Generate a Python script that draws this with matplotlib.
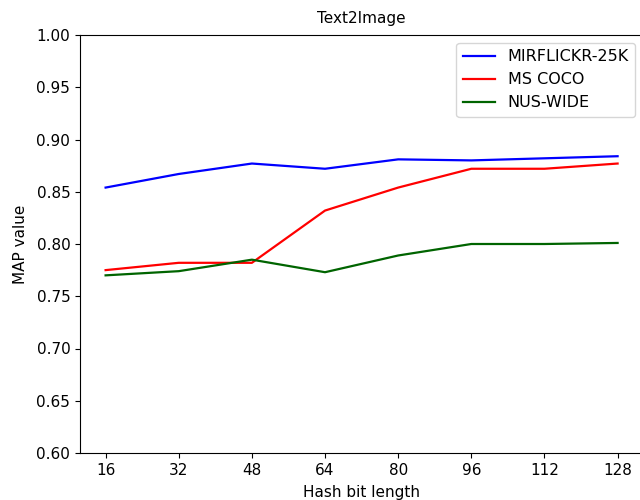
import numpy as np
import matplotlib
matplotlib.use('Agg')
import matplotlib.pyplot as plt

# hash bit lengths
bits = [16, 32, 48, 64, 80, 96, 112, 128]

# MAP values
mirflickr = [0.854, 0.867, 0.877, 0.872, 0.881, 0.880, 0.882, 0.884]
mscoco = [0.775, 0.782, 0.782, 0.832, 0.854, 0.872, 0.872, 0.877]
nuswide = [0.770, 0.774, 0.785, 0.773, 0.789, 0.800, 0.800, 0.801]

plt.rcParams['font.size'] = 11

fig = plt.figure(figsize=(6.4, 5.0), dpi=100)
ax = fig.add_axes([0.125, 0.094, 0.88, 0.836])

ax.plot(bits, mirflickr, color='blue', linewidth=1.6, label='MIRFLICKR-25K')
ax.plot(bits, mscoco, color='red', linewidth=1.6, label='MS COCO')
ax.plot(bits, nuswide, color='darkgreen', linewidth=1.6, label='NUS-WIDE')

ax.set_xticks(bits)
ax.set_ylim(0.60, 1.00)
ax.set_yticks(np.arange(0.60, 1.001, 0.05))
ax.set_yticklabels(['%.2f' % v for v in np.arange(0.60, 1.001, 0.05)])
ax.set_xlabel('Hash bit length', labelpad=5)
ax.set_ylabel('MAP value', labelpad=6)
ax.set_title('Text2Image', fontsize=11, pad=9)
ax.legend(loc='upper right', fontsize=11.5)

fig.savefig('out.png', dpi=100)
